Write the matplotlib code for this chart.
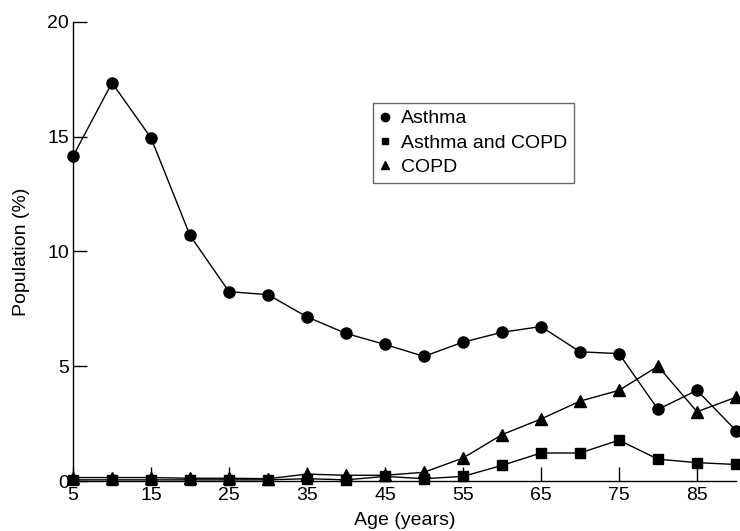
import matplotlib
matplotlib.use("Agg")
import matplotlib.pyplot as plt

plt.rcParams['font.family'] = ['Liberation Sans', 'DejaVu Sans']

ages = [5, 10, 15, 20, 25, 30, 35, 40, 45, 50, 55, 60, 65, 70, 75, 80, 85, 90]
asthma = [14.15, 17.35, 14.95, 10.7, 8.25, 8.12, 7.15, 6.43, 5.95, 5.43, 6.05, 6.48, 6.73, 5.63, 5.55, 3.12, 3.95, 2.2]
asthma_copd = [0.05, 0.05, 0.05, 0.05, 0.05, 0.05, 0.1, 0.05, 0.2, 0.1, 0.2, 0.68, 1.22, 1.22, 1.78, 0.95, 0.8, 0.72]
copd = [0.15, 0.15, 0.15, 0.12, 0.12, 0.1, 0.3, 0.25, 0.25, 0.38, 1.0, 2.02, 2.7, 3.48, 3.95, 5.0, 3.02, 3.65]

labels = ['Asthma', 'Asthma and COPD', 'COPD']
xticks = [5, 15, 25, 35, 45, 55, 65, 75, 85]
yticks = [0, 5, 10, 15, 20]

fs = 14
fig = plt.figure(figsize=(7.4, 5.31), dpi=100)
ax = fig.add_axes([73/740, 1-481/531, (736-73)/740, (481-22)/531])

lw = 1.0
ax.plot(ages, asthma, color='black', lw=lw, marker='o', markersize=8, label=labels[0], clip_on=False, zorder=3)
ax.plot(ages, asthma_copd, color='black', lw=lw, marker='s', markersize=6.5, label=labels[1], clip_on=False, zorder=3)
ax.plot(ages, copd, color='black', lw=lw, marker='^', markersize=8, label=labels[2], clip_on=False, zorder=3)

ax.set_xlim(5, 90)
ax.set_ylim(0, 20)
ax.set_xticks(xticks)
ax.set_yticks(yticks)
ax.spines['top'].set_visible(False)
ax.spines['right'].set_visible(False)
for s in ['left', 'bottom']:
    ax.spines[s].set_linewidth(1.0)
ax.tick_params(direction='in', length=10, width=1.0, labelsize=fs)
ax.tick_params(axis='y', pad=3)
ax.tick_params(axis='x', pad=4)
ax.set_xlabel('Age (years)', fontsize=fs, labelpad=6)
ax.set_ylabel('Population (%)', fontsize=fs, labelpad=12)

leg = ax.legend(loc='upper left', bbox_to_anchor=(0.452, 0.8235), borderaxespad=0,
                fontsize=fs, frameon=True, fancybox=False, handlelength=0.6,
                handletextpad=0.5, labelspacing=0.35, borderpad=0.35, edgecolor='#444444',
                markerscale=0.75)
leg.get_frame().set_linewidth(1.0)
for h in leg.legend_handles:
    h.set_linestyle('none')

fig.savefig('out.png', dpi=100)
